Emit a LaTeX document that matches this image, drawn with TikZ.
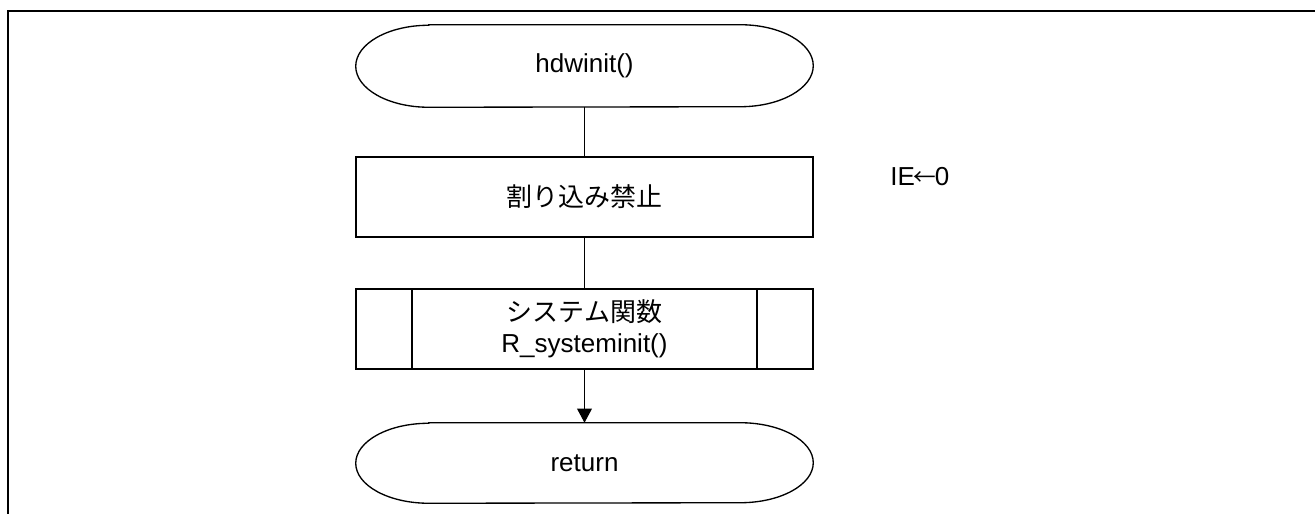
\documentclass[tikz,border=0pt]{standalone}
\usepackage{fontspec}
\setmainfont{Liberation Sans}
\newfontfamily\jpfont{Noto Sans CJK JP}
\usetikzlibrary{arrows.meta}
\begin{document}
\begin{tikzpicture}[x=0.75pt,y=0.75pt,
  every node/.style={font=\fontsize{19.5pt}{23pt}\selectfont},
  shapebox/.style={draw=none,minimum width=342.75pt,minimum height=60pt,inner sep=0pt,align=center},
  outline/.style={draw=black,line width=1pt},
  conn/.style={draw=black,line width=1pt},
  framestyle/.style={draw=black,line width=1.6pt}]
\useasboundingbox (0,0) rectangle (1315,514);
% frame
\draw[framestyle] (8,0) -- (8,503) -- (1315,503);
% nodes
\node[shapebox,minimum height=61.5pt] (start) at (584.5,448) {hdwinit()};
\node[shapebox,outline] (dis) at (584.5,317) {{\jpfont 割り込み禁止}};
\node[shapebox,outline] (sys) at (584.5,185) {{\jpfont システム関数}\\R\_systeminit()};
\node[shapebox] (ret) at (584.5,51) {return};
\node[anchor=west,inner sep=0pt] (ie) at (890,337) {IE\kern-1pt{\jpfont\fontsize{17pt}{20pt}\selectfont ←}\kern-1pt 0};
% terminal outlines
\foreach \n/\ry in {start/30.75pt,ret/30pt}{
  \draw[outline] ([xshift=54.75pt]\n.north west) -- ([xshift=-54.75pt]\n.north east)
    arc[start angle=90,end angle=-90,x radius=54.75pt,y radius=\ry]
    -- ([xshift=54.75pt]\n.south west)
    arc[start angle=270,end angle=90,x radius=54.75pt,y radius=\ry] -- cycle;
}
% predefined process inner lines
\draw[outline] ([xshift=42.5pt]sys.north west) -- ([xshift=42.5pt]sys.south west);
\draw[outline] ([xshift=-42.5pt]sys.north east) -- ([xshift=-42.5pt]sys.south east);
% connectors
\draw[conn] (start.south) -- (dis.north);
\draw[conn] (dis.south) -- (sys.north);
\draw[conn,-{Triangle[length=10.5pt,width=11pt]}] (sys.south) -- (ret.north);
\end{tikzpicture}
\end{document}
